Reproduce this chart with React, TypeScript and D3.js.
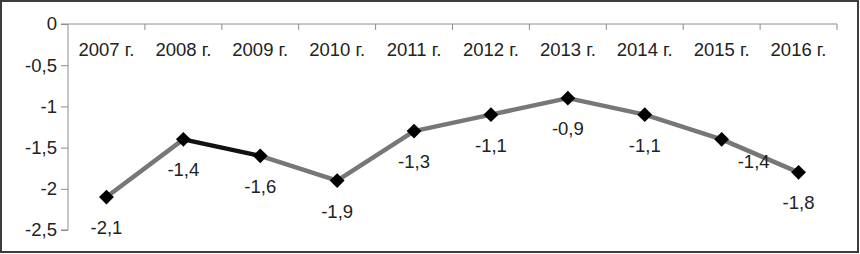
import { useEffect, useRef } from 'react';
import * as d3 from 'd3';

const years = ['2007 г.', '2008 г.', '2009 г.', '2010 г.', '2011 г.', '2012 г.', '2013 г.', '2014 г.', '2015 г.', '2016 г.'];
const values = [-2.1, -1.4, -1.6, -1.9, -1.3, -1.1, -0.9, -1.1, -1.4, -1.8];
const yTicks = [0, -0.5, -1, -1.5, -2, -2.5];
// segment from 2008 to 2009 is drawn in black in the original
const darkSegments = [1];

const width = 860;
const height = 254;
const left = 68;
const right = 837;
const top = 24;
const bottom = 230;

const fmt = (v: number) => (v === 0 ? '0' : String(v).replace('.', ','));

const App = () => {
  const ref = useRef<SVGSVGElement | null>(null);

  useEffect(() => {
    if (!ref.current) return;
    const svg = d3.select(ref.current);
    svg.selectAll('*').remove();

    const x = d3.scaleBand<string>().domain(years).range([left, right]);
    const y = d3.scaleLinear().domain([0, -2.5]).range([top, bottom]);
    const font = "'Liberation Sans', Arial, sans-serif";
    const fs = 18.5;

    svg.append('rect')
      .attr('width', width).attr('height', height).attr('fill', '#fff');

    // outer frame
    svg.append('rect')
      .attr('x', 1).attr('y', 1)
      .attr('width', width - 3).attr('height', height - 3)
      .attr('fill', 'none').attr('stroke', '#3c3c3c').attr('stroke-width', 2);

    // y axis
    const yAxis = d3.axisLeft(y).tickValues(yTicks).tickSize(7).tickPadding(4).tickFormat(d => fmt(+d));
    svg.append('g')
      .attr('transform', `translate(${left},0)`)
      .call(yAxis)
      .call(g => g.select('.domain').attr('stroke', '#8c8c8c').attr('d', `M-7,${top}H0V${bottom}H-7`))
      .call(g => g.selectAll('.tick line').attr('stroke', '#8c8c8c'))
      .call(g => g.selectAll('.tick text')
        .attr('fill', '#222').attr('font-size', fs).attr('font-family', font));

    // x axis on top at y = 0, ticks between categories
    svg.append('line')
      .attr('x1', left).attr('x2', right)
      .attr('y1', y(0)).attr('y2', y(0))
      .attr('stroke', '#8c8c8c');
    const bounds = years.map(d => x(d) as number).concat([right]);
    svg.append('g').selectAll('line').data(bounds.slice(1)).join('line')
      .attr('x1', d => d).attr('x2', d => d)
      .attr('y1', y(0)).attr('y2', y(0) + 6)
      .attr('stroke', '#8c8c8c');
    svg.append('g').selectAll('text').data(years).join('text')
      .attr('x', d => (x(d) as number) + x.bandwidth() / 2)
      .attr('y', 56)
      .attr('text-anchor', 'middle')
      .attr('font-size', fs).attr('font-family', font).attr('fill', '#222')
      .text(d => d);

    const cx = (i: number) => (x(years[i]) as number) + x.bandwidth() / 2;

    // line segments
    svg.append('g').selectAll('line').data(d3.range(values.length - 1)).join('line')
      .attr('x1', i => cx(i)).attr('y1', i => y(values[i]))
      .attr('x2', i => cx(i + 1)).attr('y2', i => y(values[i + 1]))
      .attr('stroke', i => (darkSegments.includes(i) ? '#111' : '#777'))
      .attr('stroke-width', 4.5)
      .attr('stroke-linecap', 'round');

    // markers
    const diamond = d3.symbol().type(d3.symbolDiamond2).size(140);
    svg.append('g').selectAll('path').data(values).join('path')
      .attr('transform', (d, i) => `translate(${cx(i)},${y(d)})`)
      .attr('d', diamond)
      .attr('fill', '#000');

    // data labels
    svg.append('g').selectAll('text').data(values).join('text')
      .attr('x', (d, i) => cx(i) + (i === 8 ? 32 : 0))
      .attr('y', (d, i) => y(d) + (i === 8 ? 29 : 37))
      .attr('text-anchor', 'middle')
      .attr('font-size', fs).attr('font-family', font).attr('fill', '#222')
      .text(d => fmt(d));
  }, []);

  return (
    <svg
      ref={ref}
      width={width}
      height={height}
      style={{ position: 'absolute', left: 0, top: 0, display: 'block' }}
    />
  );
};

export default App;
